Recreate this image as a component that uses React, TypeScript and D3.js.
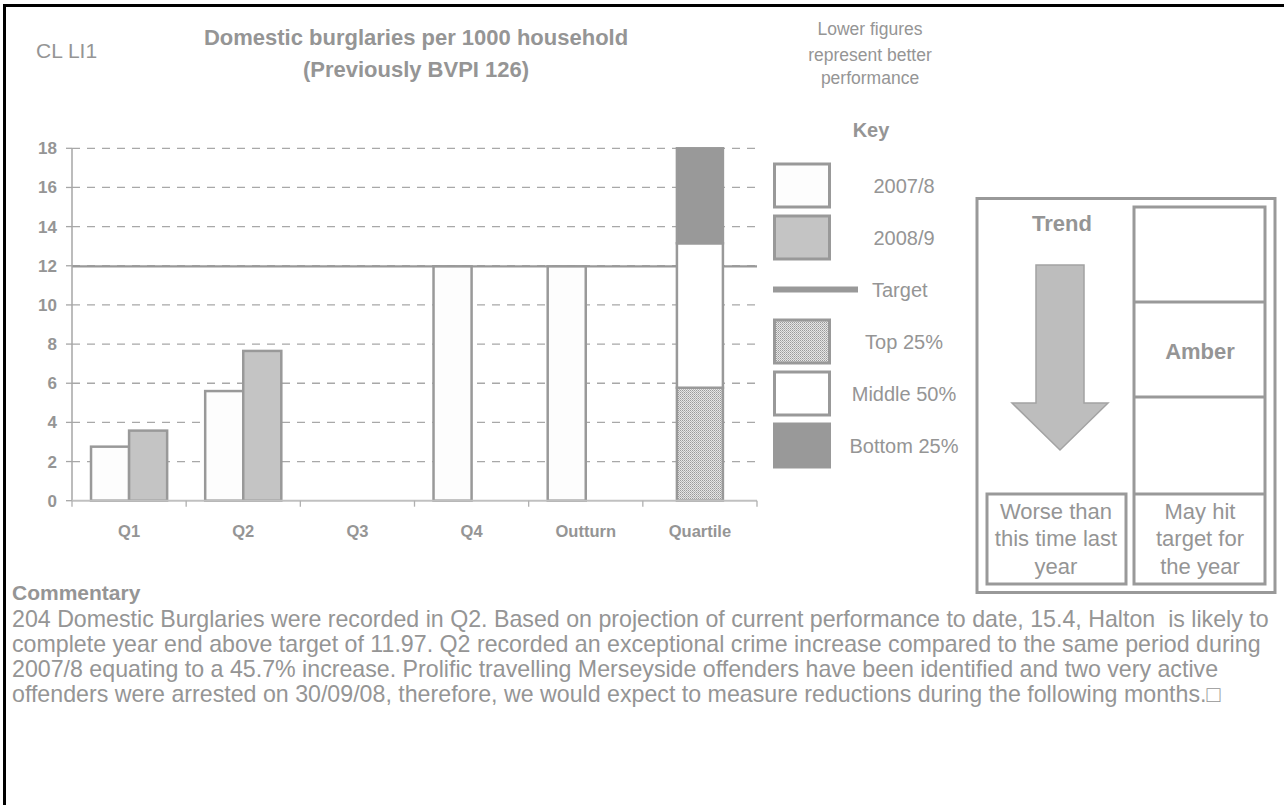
import React, { useEffect } from "react";
import * as d3 from "d3";

const categories = ["Q1", "Q2", "Q3", "Q4", "Outturn", "Quartile"];
const series = ["2007/8", "2008/9"];
const values2007 = [2.76, 5.6, null, 11.97, 11.97, null];
const values2008 = [3.58, 7.65, null, null, null, null];
const targetValue = 11.97;
const quartileNames = ["Top 25%", "Middle 50%", "Bottom 25%"];
const quartileValues = [5.77, 7.38, 4.85];
const yTicks = [0, 2, 4, 6, 8, 10, 12, 14, 16, 18];
const legendItems = ["2007/8", "2008/9", "Target", "Top 25%", "Middle 50%", "Bottom 25%"];
const commentaryLines = [
  "204 Domestic Burglaries were recorded in Q2. Based on projection of current performance to date, 15.4, Halton  is likely to",
  "complete year end above target of 11.97. Q2 recorded an exceptional crime increase compared to the same period during",
  "2007/8 equating to a 45.7% increase. Prolific travelling Merseyside offenders have been identified and two very active",
  "offenders were arrested on 30/09/08, therefore, we would expect to measure reductions during the following months.\u25A1",
];

const FONT = "'Liberation Sans', Arial, sans-serif";
const TXT = "#959595";
const STROKE = "#999999";

export default function App() {
  useEffect(() => {
    document.body.style.margin = "0";
  }, []);

  const x = d3.scaleBand<string>().domain(categories).range([72, 757]).padding(0);
  const xIn = d3
    .scaleBand<string>()
    .domain(series)
    .range([0, x.bandwidth()])
    .paddingInner(0)
    .paddingOuter(0.5);
  const y = d3.scaleLinear().domain([0, 18]).range([500.7, 148.3]);

  const stackData = [
    Object.fromEntries(quartileNames.map((n, i) => [n, quartileValues[i]])),
  ];
  const stacked = d3.stack<any>().keys(quartileNames)(stackData as any);
  const qWidth = 46;
  const qX = (x("Quartile") as number) + x.bandwidth() / 2 - qWidth / 2;
  const quartileFill = ["url(#dots)", "#ffffff", "#999999"];

  const legendY = d3.scalePoint<string>().domain(legendItems).range([185.5, 445.5]);

  return (
    <svg width={1284} height={805} style={{ display: "block" }} fontFamily={FONT}>
      <defs>
        <pattern id="dots" width={2} height={2} patternUnits="userSpaceOnUse">
          <rect width={2} height={2} fill="#e6e6e6" />
          <rect width={1} height={1} fill="#9a9a9a" />
          <rect x={1} y={1} width={1} height={1} fill="#b5b5b5" />
        </pattern>
      </defs>
      <rect x={0} y={0} width={1284} height={805} fill="#ffffff" />
      <rect x={4.5} y={5.5} width={1300} height={820} fill="none" stroke="#000" strokeWidth={3} />

      {/* Headings */}
      <text x={36} y={58} fontSize={21} fill={TXT}>CL LI1</text>
      <text x={416} y={45} fontSize={22} fontWeight="bold" fill={TXT} textAnchor="middle">
        Domestic burglaries per 1000 household
      </text>
      <text x={416} y={77} fontSize={22} fontWeight="bold" fill={TXT} textAnchor="middle">
        (Previously BVPI 126)
      </text>
      <g fontSize={17.5} fill={TXT} textAnchor="middle">
        <text x={870} y={35}>Lower figures</text>
        <text x={870} y={61}>represent better</text>
        <text x={870} y={84}>performance</text>
      </g>
      <text x={871} y={137} fontSize={20} fontWeight="bold" fill={TXT} textAnchor="middle">Key</text>

      {/* Gridlines */}
      {yTicks.filter((t) => t > 0).map((t) => (
        <line key={t} x1={72} x2={757} y1={y(t)} y2={y(t)} stroke="#a8a8a8" strokeWidth={1.3} strokeDasharray="8,7" />
      ))}
      {/* Target line */}
      <line x1={72} x2={757} y1={y(targetValue)} y2={y(targetValue)} stroke={STROKE} strokeWidth={2.2} />

      {/* Bars */}
      {categories.map((c, i) => {
        const bars = [] as React.ReactNode[];
        const v1 = values2007[i];
        const v2 = values2008[i];
        if (v1 != null)
          bars.push(
            <rect key={c + "a"} x={(x(c) as number) + (xIn("2007/8") as number)} y={y(v1)} width={xIn.bandwidth()} height={y(0) - y(v1)} fill="#fdfdfd" stroke={STROKE} strokeWidth={2.5} />
          );
        if (v2 != null)
          bars.push(
            <rect key={c + "b"} x={(x(c) as number) + (xIn("2008/9") as number)} y={y(v2)} width={xIn.bandwidth()} height={y(0) - y(v2)} fill="#c4c4c4" stroke={STROKE} strokeWidth={2.5} />
          );
        return <g key={c}>{bars}</g>;
      })}
      {stacked.map((s, i) => (
        <rect key={s.key} x={qX} y={y(s[0][1])} width={qWidth} height={y(s[0][0]) - y(s[0][1])} fill={quartileFill[i]} stroke={STROKE} strokeWidth={2.5} />
      ))}

      {/* Axes */}
      <line x1={72} x2={72} y1={y(18)} y2={y(0)} stroke="#a6a6a6" strokeWidth={1.5} />
      <line x1={72} x2={757} y1={y(0)} y2={y(0)} stroke="#c0c0c0" strokeWidth={2} />
      {yTicks.map((t) => (
        <g key={t}>
          <line x1={66} x2={72} y1={y(t)} y2={y(t)} stroke="#a6a6a6" strokeWidth={1.3} />
          <text x={57} y={y(t) + 6} fontSize={17} fontWeight="bold" fill={TXT} textAnchor="end">{t}</text>
        </g>
      ))}
      {[...categories.map((c) => x(c) as number), 757].map((px, i) => (
        <line key={i} x1={px} x2={px} y1={y(0)} y2={y(0) + 6} stroke="#b0b0b0" strokeWidth={1.3} />
      ))}
      {categories.map((c) => (
        <text key={c} x={(x(c) as number) + x.bandwidth() / 2} y={537} fontSize={16.5} fontWeight="bold" fill={TXT} textAnchor="middle">{c}</text>
      ))}

      {/* Legend */}
      {legendItems.map((item, i) => {
        const cy = legendY(item) as number;
        const fills = ["#fdfdfd", "#c4c4c4", null, "url(#dots)", "#ffffff", "#999999"];
        return (
          <g key={item}>
            {item === "Target" ? (
              <rect x={773} y={cy - 3} width={85} height={6} fill="#999999" />
            ) : (
              <rect x={774.5} y={cy - 21.5} width={55} height={43} fill={fills[i] as string} stroke={STROKE} strokeWidth={3} />
            )}
            {item === "Target" ? (
              <text x={872} y={cy + 7} fontSize={20} fill={TXT}>{item}</text>
            ) : (
              <text x={904} y={cy + 7} fontSize={20} fill={TXT} textAnchor="middle">{item}</text>
            )}
          </g>
        );
      })}

      {/* Trend panel */}
      <g fill="none" stroke={STROKE} strokeWidth={3}>
        <rect x={977} y={198.5} width={298} height={394} />
        <rect x={1134} y={207} width={131} height={377} />
        <line x1={1134} x2={1265} y1={302} y2={302} />
        <line x1={1134} x2={1265} y1={397} y2={397} />
        <line x1={1134} x2={1265} y1={494} y2={494} />
        <rect x={987} y={494} width={139} height={90} />
      </g>
      <text x={1062} y={231} fontSize={22} fontWeight="bold" fill={TXT} textAnchor="middle">Trend</text>
      <text x={1200} y={359} fontSize={22} fontWeight="bold" fill={TXT} textAnchor="middle">Amber</text>
      <path d="M1036,265 L1084,265 L1084,403 L1108,403 L1060,450 L1012,403 L1036,403 Z" fill="#bdbdbd" stroke="#a3a3a3" strokeWidth={1.5} />
      <g fontSize={22} fill={TXT} textAnchor="middle">
        <text x={1056} y={519}>Worse than</text>
        <text x={1056} y={546}>this time last</text>
        <text x={1056} y={574}>year</text>
        <text x={1200} y={519}>May hit</text>
        <text x={1200} y={546}>target for</text>
        <text x={1200} y={574}>the year</text>
      </g>

      {/* Commentary */}
      <text x={12} y={600} fontSize={21} fontWeight="bold" fill={TXT}>Commentary</text>
      <g fontSize={23.2} fill={TXT}>
        {commentaryLines.map((l, i) => (
          <text key={i} x={12} y={627 + i * 25} xmlSpace="preserve" style={{ whiteSpace: "pre" }}>{l}</text>
        ))}
      </g>
    </svg>
  );
}
